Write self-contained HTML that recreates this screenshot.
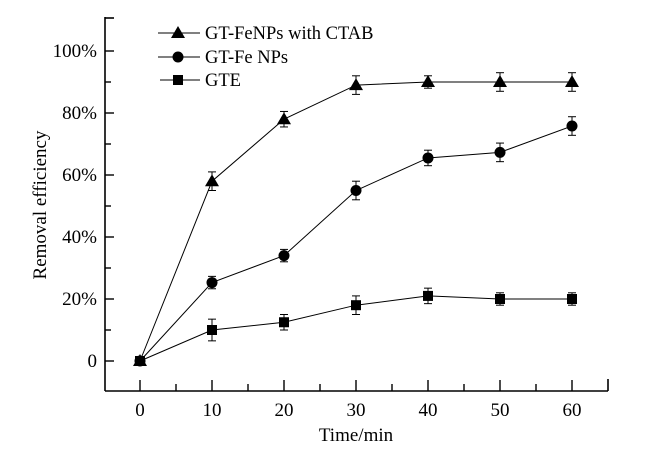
<!DOCTYPE html>
<html><head><meta charset="utf-8"><style>
html,body{margin:0;padding:0;background:#fff;}
svg{display:block;font-family:"Liberation Serif",serif;}
</style></head><body>
<svg width="672" height="458" viewBox="0 0 672 458" xmlns="http://www.w3.org/2000/svg">
<g stroke="#000" stroke-width="1.6" fill="none">
<line x1="105" y1="17" x2="105" y2="391"/>
<line x1="105" y1="391" x2="608" y2="391"/>
<line x1="105" y1="18" x2="114" y2="18"/>
<line x1="608" y1="391" x2="608" y2="379"/>
</g>
<g id="yt" stroke="#000" stroke-width="1.4"></g>
<g id="xt" stroke="#000" stroke-width="1.4"></g>
<g font-size="19" text-anchor="end" fill="#000">
<text x="97" y="367">0</text>
<text x="97" y="305">20%</text>
<text x="97" y="243">40%</text>
<text x="97" y="181">60%</text>
<text x="97" y="119">80%</text>
<text x="97" y="57">100%</text>
</g>
<g font-size="19" text-anchor="middle" fill="#000">
<text x="140" y="416">0</text>
<text x="212" y="416">10</text>
<text x="284" y="416">20</text>
<text x="356" y="416">30</text>
<text x="428" y="416">40</text>
<text x="500" y="416">50</text>
<text x="572" y="416">60</text>
<text x="356" y="441">Time/min</text>
<text transform="translate(46,205) rotate(-90)">Removal efficiency</text>
</g>
<g id="series"></g>
<g font-size="18.5" fill="#000">
<line x1="158" y1="33" x2="200" y2="33" stroke="#000" stroke-width="1"/>
<polygon points="178,26 185,38 171,38" fill="#000"/>
<text x="205" y="39">GT-FeNPs with CTAB</text>
<line x1="158" y1="57" x2="200" y2="57" stroke="#000" stroke-width="1"/>
<circle cx="178" cy="57" r="5.5" fill="#000"/>
<text x="205" y="63">GT-Fe NPs</text>
<line x1="160" y1="80" x2="200" y2="80" stroke="#000" stroke-width="1"/>
<rect x="173" y="75" width="10" height="10" fill="#000"/>
<text x="205" y="86">GTE</text>
</g>
<script>
var NS="http://www.w3.org/2000/svg";
function el(p,t,a){var e=document.createElementNS(NS,t);for(var k in a)e.setAttribute(k,a[k]);p.appendChild(e);return e;}
var yt=document.getElementById('yt');
for(var v=0;v<=100;v+=10){var y=361-v*3.1;el(yt,'line',{x1:105,x2:v%20==0?114:111,y1:y,y2:y});}
var xt=document.getElementById('xt');
for(var t=0;t<=60;t+=5){var x=140+t*7.2;el(xt,'line',{x1:x,x2:x,y1:391,y2:t%10==0?380:384});}
var X=[0,10,20,30,40,50,60];
var S=[
 {d:[0,58,78,89,90,90,90],e:[0,3,2.5,3,2,3,3],m:'t'},
 {d:[0,25.3,34,55,65.5,67.3,75.8],e:[0,2,2,3,2.5,3,3],m:'c'},
 {d:[0,10,12.5,18,21,20,20],e:[0,3.5,2.5,3,2.5,2,2],m:'s'}
];
var g=document.getElementById('series');
S.forEach(function(s){
 var pts=X.map(function(t,i){return [140+t*7.2,361-s.d[i]*3.1];});
 el(g,'polyline',{points:pts.map(function(p){return p.join(',')}).join(' '),fill:'none',stroke:'#000','stroke-width':1});
 pts.forEach(function(p,i){
  var e=s.e[i]*3.1;
  if(e>0){el(g,'line',{x1:p[0],x2:p[0],y1:p[1]-e,y2:p[1]+e,stroke:'#000','stroke-width':1});
   el(g,'line',{x1:p[0]-4,x2:p[0]+4,y1:p[1]-e,y2:p[1]-e,stroke:'#000','stroke-width':1});
   el(g,'line',{x1:p[0]-4,x2:p[0]+4,y1:p[1]+e,y2:p[1]+e,stroke:'#000','stroke-width':1});}
  if(s.m=='t')el(g,'polygon',{points:(p[0])+','+(p[1]-7)+' '+(p[0]+7)+','+(p[1]+5)+' '+(p[0]-7)+','+(p[1]+5),fill:'#000'});
  else if(s.m=='c')el(g,'circle',{cx:p[0],cy:p[1],r:5.5,fill:'#000'});
  else el(g,'rect',{x:p[0]-5,y:p[1]-5,width:10,height:10,fill:'#000'});
 });
});
</script>
</svg>
</body></html>
